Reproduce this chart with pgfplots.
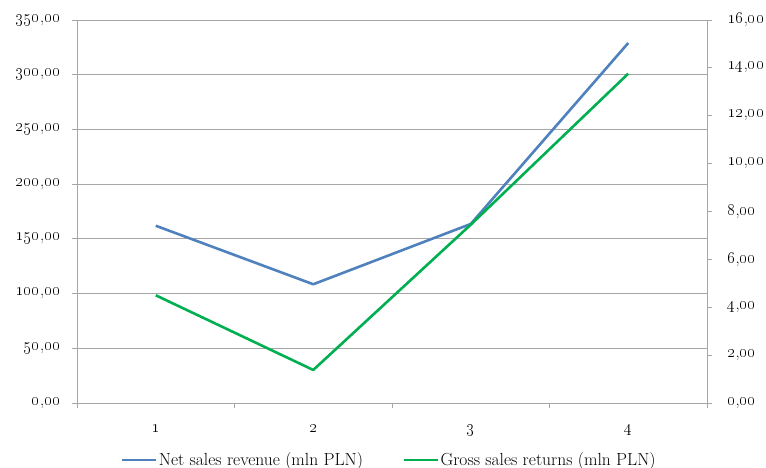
\documentclass[border=0pt]{standalone}
\usepackage{pgfplots}
\pgfplotsset{compat=1.18}

\definecolor{netblue}{HTML}{4F81BD}
\definecolor{grossgreen}{HTML}{00B050}
\definecolor{gridgray}{HTML}{A6A6A6}

% tick numbers with old-style figures and a decimal comma
\newcommand{\ticksize}{\fontsize{16.5}{19}\selectfont}
\newcommand{\osn}[2]{{\ticksize\oldstylenums{#1},\oldstylenums{#2}}}
\newcommand{\osd}[1]{{\ticksize\oldstylenums{#1}}}

\pgfplotsset{
  common/.style={
    scale only axis, width=630pt, height=383pt,
    xmin=0.5, xmax=4.5,
    axis line style={gridgray, line width=0.8pt},
    tick style={gridgray, line width=0.8pt},
    major tick length=5pt, tick align=outside,
  },
}

\begin{document}
\begin{tikzpicture}
\path[use as bounding box] (-77pt,-65pt) rectangle (689pt,403pt);

% left axis: net sales revenue
\begin{axis}[common,
  ymin=0, ymax=350,
  axis y line*=left, axis x line*=bottom,
  xtick={0.5,1.5,2.5,3.5,4.5}, x tick label as interval,
  xticklabels={\osd{1},\osd{2},\osd{3},\osd{4}},
  xticklabel style={yshift=-14pt},
  ytick={0,50,100,150,200,250,300,350},
  yticklabels={\osn{0}{00},\osn{50}{00},\osn{100}{00},\osn{150}{00},\osn{200}{00},\osn{250}{00},\osn{300}{00},\osn{350}{00}},
  yticklabel style={xshift=-8pt},
  ymajorgrids, grid style={gridgray, line width=0.8pt},
]
\addplot[netblue, line width=2.6pt, line join=round] coordinates {
  (1,162.0) (2,108.5) (3,163.6) (4,329.0)
};
\end{axis}

% right axis: gross sales returns
\begin{axis}[common,
  ymin=0, ymax=16,
  axis y line*=right, axis x line=none,
  ytick={0,2,4,6,8,10,12,14,16},
  yticklabels={\osn{0}{00},\osn{2}{00},\osn{4}{00},\osn{6}{00},\osn{8}{00},\osn{10}{00},\osn{12}{00},\osn{14}{00},\osn{16}{00}},
  yticklabel style={xshift=12pt},
  legend columns=2,
  legend style={draw=none, at={(0.4952,-0.1488)}, anchor=center,
    font=\fontsize{17.5}{20}\selectfont,
    /tikz/every even column/.append style={column sep=38pt},
    nodes={inner sep=1.5pt}},
  legend image code/.code={\draw[#1] (0pt,0pt) -- (34pt,0pt);},
]
\addlegendimage{netblue, line width=2.6pt}
\addlegendentry{Net sales revenue (mln PLN)}
\addplot[grossgreen, line width=2.6pt, line join=round] coordinates {
  (1,4.50) (2,1.38) (3,7.45) (4,13.76)
};
\addlegendentry{Gross sales returns (mln PLN)}
\end{axis}
\end{tikzpicture}
\end{document}
